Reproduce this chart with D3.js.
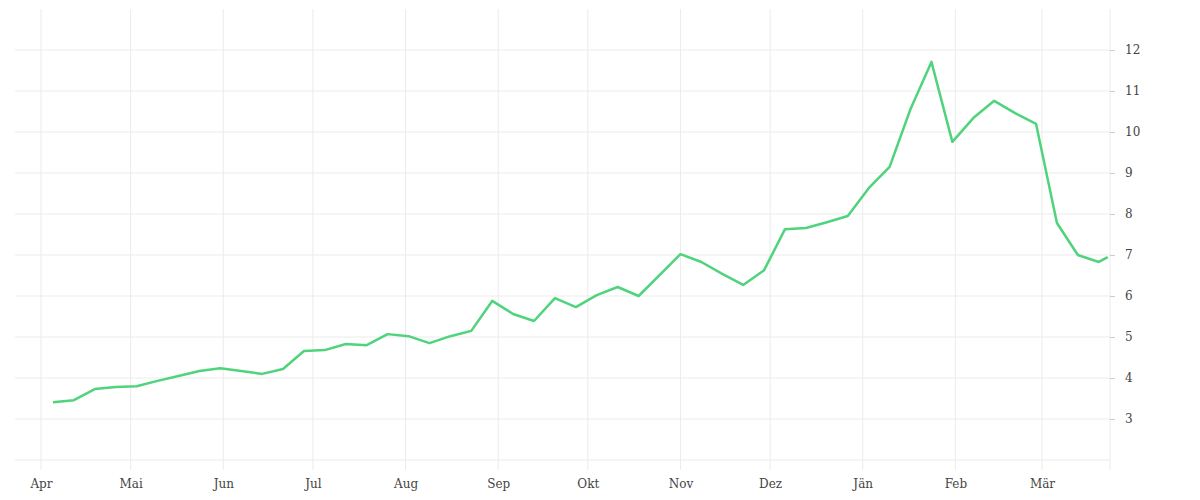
<!DOCTYPE html>
<html><head><meta charset="utf-8">
<script src="https://cdn.jsdelivr.net/npm/d3@7"></script>
<style>body{margin:0;background:#fff}text{font-family:"DejaVu Serif",serif;font-size:12px;fill:#444}</style>
</head><body><svg id="c" width="1200" height="500"></svg>
<script>
const dates=["2023-04-05","2023-04-12","2023-04-19","2023-04-26","2023-05-03","2023-05-10","2023-05-17","2023-05-24","2023-05-31","2023-06-07","2023-06-14","2023-06-21","2023-06-28","2023-07-05","2023-07-12","2023-07-19","2023-07-26","2023-08-02","2023-08-09","2023-08-16","2023-08-23","2023-08-30","2023-09-06","2023-09-13","2023-09-20","2023-09-27","2023-10-04","2023-10-11","2023-10-18","2023-10-25","2023-11-01","2023-11-08","2023-11-15","2023-11-22","2023-11-29","2023-12-06","2023-12-13","2023-12-20","2023-12-27","2024-01-03","2024-01-10","2024-01-17","2024-01-24","2024-01-31","2024-02-07","2024-02-14","2024-02-21","2024-02-28","2024-03-06","2024-03-13","2024-03-20","2024-03-23"];
const values=[3.41,3.46,3.73,3.78,3.80,3.93,4.05,4.17,4.24,4.17,4.10,4.22,4.66,4.68,4.83,4.80,5.07,5.02,4.85,5.02,5.15,5.88,5.56,5.39,5.95,5.73,6.02,6.22,6.00,6.51,7.02,6.83,6.54,6.27,6.63,7.63,7.66,7.80,7.95,8.63,9.15,10.56,11.71,9.76,10.34,10.76,10.46,10.20,7.78,7.00,6.83,6.95];
const monthLabels=["Apr","Mai","Jun","Jul","Aug","Sep","Okt","Nov","Dez","Jän","Feb","Mär"];
const monthStarts=["2023-04-01","2023-05-01","2023-06-01","2023-07-01","2023-08-01","2023-09-01","2023-10-01","2023-11-01","2023-12-01","2024-01-01","2024-02-01","2024-03-01"];
const yTicks=[3,4,5,6,7,8,9,10,11,12];

const p=d3.timeParse("%Y-%m-%d");
const svg=d3.select("#c");
const L=15,R=1110,T=9,B=460;
const x=d3.scaleTime().domain([p("2023-04-01"),p("2024-03-01")]).range([41,1042]);
const y=d3.scaleLinear().domain([2,13]).range([B,T]);

svg.append("g").selectAll("line").data([2,...yTicks]).join("line")
 .attr("x1",L).attr("x2",R).attr("y1",d=>y(d)).attr("y2",d=>y(d))
 .attr("stroke","#ebebeb").attr("stroke-width",1);
svg.append("g").selectAll("line").data(monthStarts).join("line")
 .attr("x1",d=>x(p(d))).attr("x2",d=>x(p(d))).attr("y1",T).attr("y2",B+10)
 .attr("stroke","#ebebeb");
svg.append("line").attr("x1",R).attr("x2",R).attr("y1",T).attr("y2",B+10).attr("stroke","#ebebeb");

const xa=d3.axisBottom(x).tickValues(monthStarts.map(p)).tickFormat((d,i)=>monthLabels[i]).tickSize(0).tickPadding(19);
const gx=svg.append("g").attr("transform",`translate(0,${B})`).call(xa);
gx.select(".domain").remove();
gx.selectAll("text").style("font-size","12px").attr("fill","#333");

const ya=d3.axisRight(y).tickValues(yTicks).tickSize(5).tickPadding(10);
const gy=svg.append("g").attr("transform",`translate(${R},0)`).call(ya);
gy.select(".domain").remove();
gy.selectAll("line").attr("stroke","#ccc");
gy.selectAll("text").attr("fill","#333");

const line=d3.line().x((d,i)=>x(p(dates[i]))).y(d=>y(d));
svg.append("path").datum(values).attr("d",line).attr("fill","none")
 .attr("stroke","#4fd37c").attr("stroke-width",2.5).attr("stroke-linejoin","round");
</script></body></html>
